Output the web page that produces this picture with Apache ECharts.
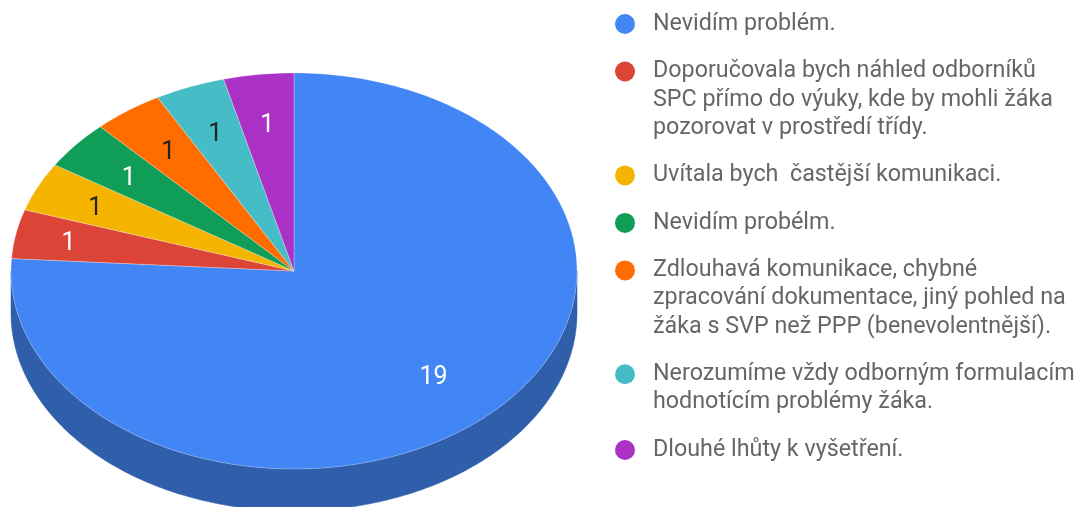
<!DOCTYPE html>
<html>
<head>
<meta charset="utf-8">
<script src="https://cdn.jsdelivr.net/npm/echarts@6/dist/echarts.min.js"></script>
<style>
  html, body { margin: 0; padding: 0; background: #fff; }
  #chartBox { width: 1078px; height: 507px; }
</style>
</head>
<body>
<div id="chartBox"></div>
<script>
const categories = [
  "Nevidím problém.",
  "Doporučovala bych náhled odborníků\nSPC přímo do výuky, kde by mohli žáka\npozorovat v prostředí třídy.",
  "Uvítala bych  častější komunikaci.",
  "Nevidím probélm.",
  "Zdlouhavá komunikace, chybné\nzpracování dokumentace, jiný pohled na\nžáka s SVP než PPP (benevolentnější).",
  "Nerozumíme vždy odborným formulacím\nhodnotícím problémy žáka.",
  "Dlouhé lhůty k vyšetření."
];
const values = [19, 1, 1, 1, 1, 1, 1];

const colors = ["#4285f4", "#db4437", "#f4b400", "#0f9d58", "#ff6d01", "#46bdc6", "#ab30c4"];
const sideColors = ["#2f5eab", "#9a3027", "#ab7e00", "#0b6e3e", "#b34c01", "#31848b", "#782289"];
const labelColors = ["#ffffff", "#ffffff", "#222222", "#ffffff", "#222222", "#222222", "#ffffff"];

// pie geometry (3d look: flattened disc with a side wall)
const cx = 294, cy = 271, rx = 283, ry = 198, thick = 42;

const total = values.reduce((a, b) => a + b, 0);
const starts = [];
let acc = 0;
values.forEach(v => { starts.push(acc); acc += v; });

const angle = s => s / total * Math.PI * 2;
const pt = (a, dy) => [cx + rx * Math.sin(a), cy - ry * Math.cos(a) + dy];

function arcPoints(a0, a1, dy) {
  const pts = [];
  const n = Math.max(2, Math.ceil((a1 - a0) / (Math.PI / 180)));
  for (let k = 0; k <= n; k++) pts.push(pt(a0 + (a1 - a0) * k / n, dy));
  return pts;
}

function renderSide(params, api) {
  const i = params.dataIndex;
  const a0 = angle(starts[i]), a1 = angle(starts[i] + api.value(0));
  const lo = Math.max(a0, Math.PI / 2), hi = Math.min(a1, Math.PI * 1.5);
  if (hi <= lo) return null;
  const pts = arcPoints(lo, hi, 0).concat(arcPoints(lo, hi, thick).reverse());
  return {
    type: "polygon",
    shape: { points: pts },
    style: { fill: sideColors[i], stroke: sideColors[i], lineWidth: 0.5 }
  };
}

function renderTop(params, api) {
  const i = params.dataIndex;
  const v = api.value(0);
  const a0 = angle(starts[i]), a1 = angle(starts[i] + v);
  const pts = [[cx, cy]].concat(arcPoints(a0, a1, 0));
  const mid = (a0 + a1) / 2;
  // thin slices near the horizontal get their label pushed a bit outwards
  const lr = v / total > 0.5 ? 0.72 : 0.755 + 0.07 * Math.pow(Math.abs(Math.sin(mid)), 12);
  return {
    type: "group",
    children: [
      {
        type: "polygon",
        shape: { points: pts },
        style: { fill: colors[i], stroke: "rgba(255,255,255,0.35)", lineWidth: 0.8 }
      },
      {
        type: "text",
        x: cx + rx * lr * Math.sin(mid),
        y: cy - ry * lr * Math.cos(mid) + 3,
        style: {
          text: String(v),
          fill: labelColors[i],
          font: "25px Roboto",
          align: "center",
          verticalAlign: "middle"
        }
      }
    ]
  };
}

// legend on the right, icon aligned with the first line of each entry
const legendEls = [];
const lineH = 28.2, itemGap = 19.3;
let ly = 24;
categories.forEach((name, i) => {
  legendEls.push({
    type: "circle",
    shape: { cx: 625, cy: ly, r: 10 },
    style: { fill: colors[i] }
  });
  legendEls.push({
    type: "text",
    x: 653,
    y: ly - lineH / 2,
    style: {
      text: name,
      font: "23.3px Roboto",
      lineHeight: lineH,
      fill: "#666666",
      verticalAlign: "top"
    }
  });
  ly += name.split("\n").length * lineH + itemGap;
});

const chartDom = document.getElementById("chartBox");
const myChart = echarts.init(chartDom);
const seriesData = values.map((v, i) => ({ name: categories[i], value: v }));

myChart.setOption({
  animation: false,
  graphic: legendEls,
  series: [
    {
      type: "custom",
      name: "side",
      coordinateSystem: "none",
      renderItem: renderSide,
      data: seriesData,
      z: 1,
      silent: true
    },
    {
      type: "custom",
      name: "top",
      coordinateSystem: "none",
      renderItem: renderTop,
      data: seriesData,
      z: 2
    }
  ]
});
</script>
</body>
</html>
